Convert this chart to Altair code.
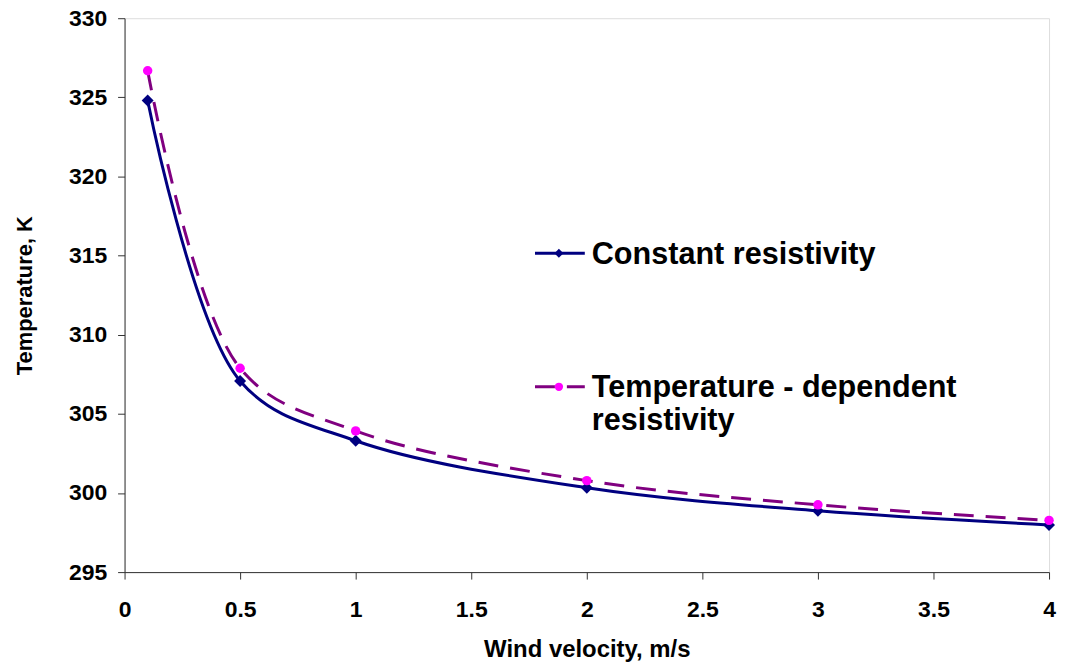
import altair as alt
import pandas as pd

velocity = [0.1, 0.5, 1, 2, 3, 4]
temp_constant = [324.8, 307.08, 303.3, 300.33, 298.87, 297.98]
temp_dependent = [326.68, 307.88, 303.92, 300.78, 299.25, 298.27]

series_names = ["Constant resistivity", "Temperature - dependent resistivity"]
x_ticks = [0, 0.5, 1, 1.5, 2, 2.5, 3, 3.5, 4]
y_ticks = [295, 300, 305, 310, 315, 320, 325, 330]

df_c = pd.DataFrame({"v": velocity, "T": temp_constant})
df_d = pd.DataFrame({"v": velocity, "T": temp_dependent})

FONT = "Liberation Sans"

x_enc = alt.X("v:Q", scale=alt.Scale(domain=[0, 4], nice=False),
              axis=alt.Axis(values=x_ticks, title="Wind velocity, m/s", grid=False, format="~g",
                            labelFontSize=23, titleFontSize=24, labelFont=FONT, titleFont=FONT,
                            labelFontWeight="bold", titleFontWeight="bold",
                            labelColor="black", titleColor="black",
                            tickSize=7, tickColor="#333", domainColor="#333",
                            labelPadding=20, titlePadding=16, labelFlush=False))
y_enc = alt.Y("T:Q", scale=alt.Scale(domain=[295, 330], nice=False, zero=False),
              axis=alt.Axis(values=y_ticks, title="Temperature, K", grid=False,
                            labelFontSize=23, titleFontSize=22, labelFont=FONT, titleFont=FONT,
                            labelFontWeight="bold", titleFontWeight="bold",
                            labelColor="black", titleColor="black",
                            tickSize=7, tickColor="#333", domainColor="#333",
                            labelPadding=11, titlePadding=32, labelFlush=False))

line_c = alt.Chart(df_c).mark_line(color="#000080", strokeWidth=3, interpolate="catmull-rom").encode(x=x_enc, y=y_enc)
pts_c = alt.Chart(df_c).mark_point(shape="diamond", filled=True, color="#000080", size=144, opacity=1).encode(x="v:Q", y="T:Q")
line_d = alt.Chart(df_d).mark_line(color="#800080", strokeWidth=3, strokeDash=[20, 12], interpolate="catmull-rom").encode(x="v:Q", y="T:Q")
pts_d = alt.Chart(df_d).mark_point(shape="circle", filled=True, color="#FF00FF", size=90, opacity=1).encode(x="v:Q", y="T:Q")

one = pd.DataFrame({"k": [0]})

leg1_line = alt.Chart(one).mark_rule(color="#000080", strokeWidth=3).encode(
    x=alt.value(412), x2=alt.value(462), y=alt.value(236))
leg1_pt = alt.Chart(one).mark_point(shape="diamond", filled=True, color="#000080", size=80, opacity=1).encode(
    x=alt.value(436), y=alt.value(236))
leg1_txt = alt.Chart(one).mark_text(text=series_names[0], font=FONT, fontSize=30.7, fontWeight="bold",
                                    align="left", baseline="alphabetic", color="black").encode(
    x=alt.value(469), y=alt.value(247))

leg2_line = alt.Chart(one).mark_rule(color="#800080", strokeWidth=3, strokeDash=[20, 12]).encode(
    x=alt.value(412), x2=alt.value(462), y=alt.value(370))
leg2_pt = alt.Chart(one).mark_point(shape="circle", filled=True, color="#FF00FF", size=70, opacity=1).encode(
    x=alt.value(436), y=alt.value(370))
leg2_txt = alt.Chart(one).mark_text(text="Temperature - dependent\nresistivity", lineBreak="\n", lineHeight=33,
                                    font=FONT, fontSize=30.7, fontWeight="bold",
                                    align="left", baseline="alphabetic", color="black").encode(
    x=alt.value(469), y=alt.value(380))

chart = alt.layer(line_d, line_c, pts_c, pts_d,
                  leg1_line, leg1_pt, leg1_txt, leg2_line, leg2_pt, leg2_txt).properties(
    width=928, height=556,
    autosize=alt.AutoSizeParams(type="none"),
    padding={"left": 117, "top": 9, "right": 10, "bottom": 92},
).configure_view(stroke="black", strokeWidth=1).configure(background="white")

chart.save("out.html", embed_options={"renderer": "svg", "actions": False})
